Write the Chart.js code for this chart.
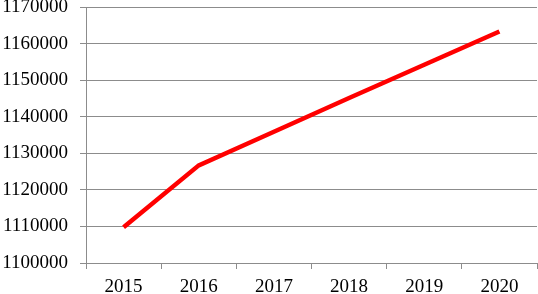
<!DOCTYPE html>
<html>
<head>
<meta charset="utf-8">
<script src="https://cdn.jsdelivr.net/npm/chart.js@4.4.1/dist/chart.umd.min.js"></script>
<style>
  html, body { margin: 0; padding: 0; background: #fff; }
  #wrap { width: 538px; height: 294px; }
</style>
</head>
<body>
<div id="wrap"><canvas id="chart" width="538" height="294"></canvas></div>
<script>
const years = ['2015', '2016', '2017', '2018', '2019', '2020'];
const population = [1109800, 1126700, 1135900, 1145100, 1154200, 1163300];
const yMin = 1100000;
const yMax = 1170000;
const yStep = 10000;

const gridColor = '#8c8c8c';

new Chart(document.getElementById('chart'), {
    type: 'line',
    data: {
        labels: years,
        datasets: [{
            data: population,
            borderColor: '#ff0000',
            borderWidth: 4.5,
            pointRadius: 0,
            tension: 0,
            fill: false
        }]
    },
    options: {
        responsive: false,
        animation: false,
        layout: { padding: { top: 7, right: 1, left: 0, bottom: 0 } },
        plugins: {
            legend: { display: false },
            tooltip: { enabled: false }
        },
        scales: {
            x: {
                offset: true,
                grid: {
                    offset: true,
                    drawOnChartArea: false,
                    color: gridColor,
                    tickLength: 6
                },
                border: { display: false },
                ticks: {
                    color: '#000',
                    padding: 7,
                    font: { family: 'Liberation Serif', size: 19 }
                },
                afterFit: axis => {
                    axis.height = 31;
                    axis.paddingLeft = 0;
                    axis.paddingRight = 0;
                }
            },
            y: {
                min: yMin,
                max: yMax,
                grid: {
                    color: gridColor,
                    tickLength: 6
                },
                border: { display: true, color: gridColor },
                ticks: {
                    stepSize: yStep,
                    color: '#000',
                    padding: 12,
                    font: { family: 'Liberation Serif', size: 19 },
                    callback: v => String(v)
                },
                afterFit: axis => {
                    axis.width = 86;
                    axis.paddingTop = 0;
                    axis.paddingBottom = 0;
                }
            }
        }
    }
});
</script>
</body>
</html>
